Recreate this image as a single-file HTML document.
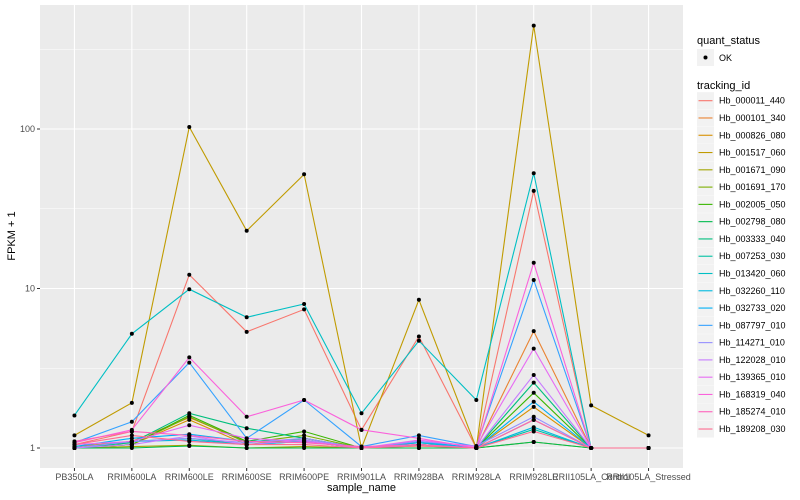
<!DOCTYPE html>
<html><head><meta charset="utf-8"><style>
body{margin:0;background:#fff;}
svg{display:block;font-family:"Liberation Sans",sans-serif;}
</style></head><body>
<svg id="chart" width="800" height="500"></svg>
<script>
const categories=["PB350LA","RRIM600LA","RRIM600LE","RRIM600SE","RRIM600PE","RRIM901LA","RRIM928BA","RRIM928LA","RRIM928LE","RRII105LA_Control","RRII105LA_Stressed"];
const seriesNames=["Hb_000011_440","Hb_000101_340","Hb_000826_080","Hb_001517_060","Hb_001671_090","Hb_001691_170","Hb_002005_050","Hb_002798_080","Hb_003333_040","Hb_007253_030","Hb_013420_060","Hb_032260_110","Hb_032733_020","Hb_087797_010","Hb_114271_010","Hb_122028_010","Hb_139365_010","Hb_168319_040","Hb_185274_010","Hb_189208_030"];
const s01=[1.05,1.27,12.2,5.35,7.4,1.3,5.0,1.0,40.9,1.0,1.0];
const s02=[1.02,1.1,1.55,1.1,1.1,1.0,1.05,1.0,5.4,1.0,1.0];
const s03=[1.0,1.05,1.5,1.05,1.15,1.0,1.03,1.0,1.81,1.0,1.0];
const s04=[1.2,1.92,103,23,52,1.0,8.5,1.0,445,1.85,1.2];
const s05=[1.0,1.02,1.04,1.0,1.02,1.0,1.0,1.0,1.09,1.0,1.0];
const s06=[1.0,1.05,1.57,1.08,1.2,1.0,1.05,1.0,1.5,1.0,1.0];
const s07=[1.0,1.05,1.6,1.1,1.27,1.0,1.05,1.0,2.22,1.0,1.0];
const s08=[1.0,1.0,1.03,1.0,1.0,1.0,1.0,1.0,1.09,1.0,1.0];
const s09=[1.0,1.08,1.65,1.33,1.15,1.0,1.08,1.0,2.57,1.0,1.0];
const s10=[1.0,1.1,1.15,1.05,1.1,1.0,1.05,1.0,1.31,1.0,1.0];
const s11=[1.6,5.2,9.9,6.6,8.0,1.65,4.7,2.0,52.8,1.0,1.0];
const s12=[1.0,1.1,1.12,1.05,1.1,1.0,1.08,1.0,1.35,1.0,1.0];
const s13=[1.02,1.15,1.22,1.1,1.12,1.0,1.1,1.0,1.95,1.0,1.0];
const s14=[1.08,1.46,3.43,1.15,2.0,1.02,1.2,1.02,11.3,1.0,1.0];
const s15=[1.0,1.1,1.15,1.08,1.15,1.0,1.1,1.03,1.57,1.0,1.0];
const s16=[1.0,1.05,1.19,1.05,1.12,1.0,1.05,1.0,2.87,1.0,1.0];
const s17=[1.05,1.1,1.39,1.15,1.1,1.0,1.12,1.02,4.2,1.0,1.0];
const s18=[1.08,1.3,3.7,1.57,2.0,1.3,1.15,1.0,14.5,1.0,1.0];
const s19=[1.1,1.27,1.2,1.1,1.08,1.02,1.05,1.0,1.5,1.0,1.0];
const s20=[1.05,1.2,1.1,1.05,1.05,1.0,1.03,1.0,1.27,1.0,1.0];
const seriesValues=[s01,s02,s03,s04,s05,s06,s07,s08,s09,s10,s11,s12,s13,s14,s15,s16,s17,s18,s19,s20];
const yTicks=[1,10,100];
const yTickLabels=["1","10","100"];
const colors=["#F8766D","#EA8331","#D89000","#C09B00","#A3A500","#7CAE00","#39B600","#00BB4E","#00BF7D","#00C1A3","#00BFC4","#00BAE0","#00B0F6","#35A2FF","#9590FF","#C77CFF","#E76BF3","#FA62DB","#FF62BC","#FF6C91"];

const NS="http://www.w3.org/2000/svg";
const svg=document.getElementById('chart');
function mk(tag,attrs,parent){const e=document.createElementNS(NS,tag);for(const k in attrs)e.setAttribute(k,attrs[k]);(parent||svg).appendChild(e);return e;}
const P={l:40,r:683,t:5,b:468};
const step=(P.r-P.l)/(categories.length-1+1.2);
function xs(i){return P.l+0.6*step+i*step;}
function ys(v){return 448-Math.log10(v)*159.5;}

const panel=mk('rect',{x:P.l,y:P.t,width:P.r-P.l,height:P.b-P.t,fill:'#EBEBEB'});


// minor grid
[0.5,1.5,2.5].forEach(e=>{const y=ys(Math.pow(10,e));if(y>P.t){const g=mk('line',{x1:P.l,x2:P.r,y1:y,y2:y,stroke:'#fff','stroke-width':0.5});}});
yTicks.forEach((v,i)=>{const y=ys(v);
 const g=mk('line',{x1:P.l,x2:P.r,y1:y,y2:y,stroke:'#fff','stroke-width':1.1});
 
 
 const tk=mk('line',{x1:P.l-3,x2:P.l,y1:y,y2:y,stroke:'#333','stroke-width':1});
 
 
 const t=mk('text',{x:P.l-5,y:y+3,'text-anchor':'end','font-size':9,fill:'#4D4D4D'});t.textContent=yTickLabels[i];
 
 
});
categories.forEach((c,i)=>{const x=xs(i);
 const g=mk('line',{x1:x,x2:x,y1:P.t,y2:P.b,stroke:'#fff','stroke-width':1.1});
 
 
 const tk=mk('line',{x1:x,x2:x,y1:P.b,y2:P.b+3,stroke:'#333','stroke-width':1});
 
 
 const t=mk('text',{x:x,y:P.b+12,'text-anchor':'middle','font-size':9,fill:'#4D4D4D'});t.textContent=c;
 
 
});
seriesValues.forEach((vals,si)=>{
 const d=vals.map((v,i)=>(i?'L':'M')+xs(i).toFixed(1)+','+ys(v).toFixed(1)).join('');
 const p=mk('path',{d:d,fill:'none',stroke:colors[si],'stroke-width':1.1});
 
 
});
seriesValues.forEach((vals,si)=>{vals.forEach((v,i)=>{
 const c=mk('circle',{cx:xs(i),cy:ys(v),r:2,fill:'#000'});
 
 
});});
let t=mk('text',{x:P.l+(P.r-P.l)/2,y:491,'text-anchor':'middle','font-size':11,fill:'#000'});t.textContent='sample_name';


t=mk('text',{x:0,y:0,'text-anchor':'middle','font-size':11,fill:'#000',transform:'translate(15,236) rotate(-90)'});t.textContent='FPKM + 1';


// legend
t=mk('text',{x:697,y:44,'font-size':11,fill:'#000'});t.textContent='quant_status';


let k=mk('rect',{x:697,y:49,width:17,height:17,fill:'#F2F2F2'});


k=mk('circle',{cx:705.5,cy:57.5,r:2,fill:'#000'});


t=mk('text',{x:719,y:61,'font-size':9,fill:'#000'});t.textContent='OK';


t=mk('text',{x:697,y:89,'font-size':11,fill:'#000'});t.textContent='tracking_id';


seriesNames.forEach((n,i)=>{const cy=100.7+i*17.28;
 const b=mk('rect',{x:697,y:cy-8.5,width:17,height:17,fill:'#F2F2F2'});
 
 
 const l=mk('line',{x1:698.5,x2:712.5,y1:cy,y2:cy,stroke:colors[i],'stroke-width':1.1});
 
 
 const tx=mk('text',{x:719,y:cy+3,'font-size':9,fill:'#000'});tx.textContent=n;
 
 
});
</script>
</body></html>
